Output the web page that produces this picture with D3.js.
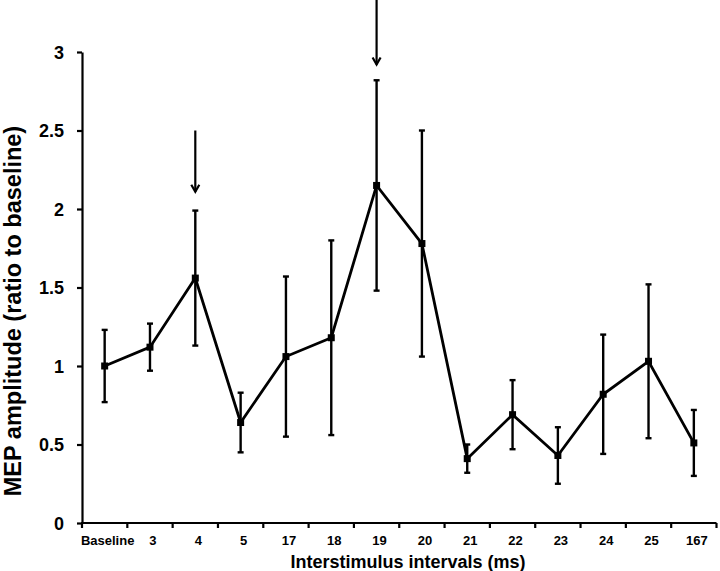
<!DOCTYPE html>
<html>
<head>
<meta charset="utf-8">
<script src="https://cdn.jsdelivr.net/npm/d3@7"></script>
<style>
  html, body { margin: 0; padding: 0; background: #fff; }
  svg { display: block; }
  text { font-family: "Liberation Sans", Arial, Helvetica, sans-serif; font-weight: bold; fill: #000; }
</style>
</head>
<body>
<svg id="chart" width="720" height="571"></svg>
<script>
// ---- data ----
const categories = ["Baseline", "3", "4", "5", "17", "18", "19", "20", "21", "22", "23", "24", "25", "167"];
const meanValues = [1.00, 1.12, 1.56, 0.64, 1.06, 1.18, 2.15, 1.78, 0.41, 0.69, 0.43, 0.82, 1.03, 0.51];
const errorValues = [0.23, 0.15, 0.43, 0.19, 0.51, 0.62, 0.67, 0.72, 0.09, 0.22, 0.18, 0.38, 0.49, 0.21];
const yTickValues = [0, 0.5, 1, 1.5, 2, 2.5, 3];
const arrowCategories = ["4", "19"];
const arrowTop = [2.50, 3.34];
const arrowTip = [2.11, 2.92];
const xAxisTitle = "Interstimulus intervals (ms)";
const yAxisTitle = "MEP amplitude (ratio to baseline)";

// ---- layout ----
const svg = d3.select("#chart");
const mLeft = 82, mRight = 716.5, mTop = 52, mBottom = 523;

const x = d3.scaleBand().domain(categories).range([mLeft, mRight]).padding(0);
const y = d3.scaleLinear().domain([0, 3]).range([mBottom, mTop]);
const cx = c => x(c) + x.bandwidth() / 2;

const data = categories.map((c, i) => ({ c, v: meanValues[i], e: errorValues[i] }));

// y axis
const yAxis = svg.append("g")
  .attr("transform", `translate(${mLeft},0)`)
  .call(d3.axisLeft(y).tickValues(yTickValues).tickFormat(d3.format("~g")).tickSize(5).tickSizeOuter(0).tickPadding(13));
yAxis.select(".domain").attr("stroke", "#000").attr("stroke-width", 2.2);
yAxis.selectAll(".tick line").attr("stroke", "#000").attr("stroke-width", 2.2);
yAxis.selectAll(".tick text").style("font-size", "18px").attr("dy", "0.35em");

// x axis: ticks at band boundaries
const xAxisG = svg.append("g").attr("transform", `translate(0,${mBottom})`);
xAxisG.append("line")
  .attr("x1", mLeft - 1).attr("x2", mRight).attr("y1", 0).attr("y2", 0)
  .attr("stroke", "#000").attr("stroke-width", 2.2);
const boundaries = categories.map(c => x(c)).concat([x(categories[categories.length - 1]) + x.bandwidth()]);
xAxisG.selectAll(".bt").data(boundaries).enter().append("line")
  .attr("x1", d => d).attr("x2", d => d).attr("y1", 0).attr("y2", 5)
  .attr("stroke", "#000").attr("stroke-width", 2.2);
xAxisG.selectAll(".xl").data(categories).enter().append("text")
  .attr("x", d => cx(d) + 3)
  .attr("y", 22)
  .attr("text-anchor", "middle")
  .style("font-size", "13px")
  .text(d => d);

// axis titles
svg.append("text")
  .attr("x", 408).attr("y", 568)
  .attr("text-anchor", "middle")
  .style("font-size", "18px")
  .text(xAxisTitle);
svg.append("text")
  .attr("transform", "translate(21,311) rotate(-90)")
  .attr("text-anchor", "middle")
  .style("font-size", "23.5px")
  .text(yAxisTitle);

// error bars
const eb = svg.append("g").attr("stroke", "#000").attr("stroke-width", 2.4);
data.forEach(d => {
  const xc = cx(d.c);
  eb.append("line").attr("x1", xc).attr("x2", xc).attr("y1", y(d.v + d.e)).attr("y2", y(d.v - d.e));
  eb.append("line").attr("x1", xc - 3).attr("x2", xc + 3).attr("y1", y(d.v + d.e)).attr("y2", y(d.v + d.e));
  eb.append("line").attr("x1", xc - 3).attr("x2", xc + 3).attr("y1", y(d.v - d.e)).attr("y2", y(d.v - d.e));
});

// line
const line = d3.line().x(d => cx(d.c)).y(d => y(d.v));
svg.append("path").datum(data)
  .attr("d", line)
  .attr("fill", "none").attr("stroke", "#000").attr("stroke-width", 2.8)
  .attr("stroke-linejoin", "miter");

// markers
svg.selectAll(".mk").data(data).enter().append("rect")
  .attr("x", d => cx(d.c) - 3.5).attr("y", d => y(d.v) - 3.5)
  .attr("width", 7).attr("height", 7).attr("fill", "#000");

// arrows
arrowCategories.forEach((c, i) => {
  const xc = cx(c);
  const yt = y(arrowTop[i]), yp = y(arrowTip[i]);
  const g = svg.append("g").attr("stroke", "#000").attr("stroke-width", 2.2).attr("fill", "none");
  g.append("line").attr("x1", xc).attr("x2", xc).attr("y1", yt).attr("y2", yp);
  g.append("path").attr("d", `M${xc - 4},${yp - 7} L${xc},${yp} L${xc + 4},${yp - 7}`);
});
</script>
</body>
</html>
